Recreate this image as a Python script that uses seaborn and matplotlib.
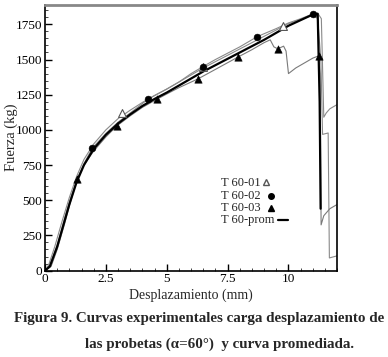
import matplotlib
matplotlib.use("Agg")
import matplotlib.pyplot as plt
from matplotlib.ticker import MultipleLocator
import pandas as pd
import seaborn as sns

# curvas (desplazamiento mm, fuerza kg)
x01 = [0, 0.15, 0.4, 0.7, 1.0, 1.3, 1.6, 2.0, 2.5, 3.0, 3.5, 4.0, 4.5, 5.0, 5.5, 6.0, 6.5, 7.0, 7.5,
       8.0, 8.5, 9.0, 9.5, 10.0, 10.5, 11.0, 11.2, 11.35, 11.45, 11.55, 11.7, 12.0]
y01 = [0, 40, 170, 350, 520, 670, 790, 900, 1000, 1080, 1140, 1195, 1245, 1290, 1340, 1390, 1440, 1485, 1530,
       1575, 1620, 1665, 1710, 1755, 1785, 1815, 1830, 1790, 1090, 1120, 1150, 1180]

x02 = [0, 0.2, 0.5, 0.8, 1.0, 1.3, 1.6, 1.94, 2.5, 3.0, 3.5, 4.23, 5.0, 5.5, 6.0, 6.49, 7.0, 7.5, 8.0,
       8.72, 9.5, 10.0, 10.5, 11.0, 11.2, 11.33, 11.4, 11.63, 11.68, 12.0]
y02 = [0, 40, 180, 370, 490, 640, 760, 870, 975, 1055, 1120, 1218, 1290, 1340, 1400, 1450, 1500, 1545, 1590,
       1663, 1720, 1760, 1790, 1824, 1790, 1500, 968, 978, 90, 105]

x03 = [0, 0.25, 0.5, 0.8, 1.0, 1.32, 1.6, 2.0, 2.5, 2.95, 3.5, 4.0, 4.6, 5.0, 5.5, 6.28, 7.0, 7.92, 8.5,
       9.0, 9.25, 9.4, 9.56, 9.8, 9.9, 10.0, 10.3, 10.6, 11.0, 11.24, 11.3, 11.34, 11.45, 11.7, 12.0]
y03 = [0, 30, 150, 330, 460, 650, 750, 850, 950, 1028, 1100, 1160, 1218, 1255, 1300, 1362, 1430, 1517, 1570,
       1620, 1640, 1590, 1576, 1595, 1560, 1400, 1440, 1470, 1510, 1526, 1400, 325, 390, 440, 470]

xprom = [0, 0.2, 0.5, 0.8, 1.0, 1.3, 1.6, 2.0, 2.5, 3.0, 3.5, 4.0, 4.5, 5.0, 5.5, 6.0, 6.5, 7.0, 7.5,
         8.0, 8.5, 9.0, 9.5, 10.0, 10.5, 11.0, 11.2, 11.28, 11.32]
yprom = [0, 30, 170, 350, 470, 630, 750, 865, 965, 1045, 1110, 1170, 1220, 1265, 1315, 1365, 1415, 1460, 1505,
         1550, 1595, 1640, 1690, 1740, 1780, 1820, 1825, 1200, 440]

# marcadores
mx01 = [3.18, 6.47, 9.77]
my01 = [1118, 1445, 1740]
mx02 = [1.94, 4.23, 6.49, 8.72, 11.0]
my02 = [870, 1218, 1450, 1663, 1824]
mx03 = [1.32, 2.95, 4.6, 6.28, 7.92, 9.56, 11.24]
my03 = [650, 1028, 1218, 1362, 1517, 1576, 1526]

labels = ["T 60-01", "T 60-02", "T 60-03", "T 60-prom"]

sns.set_style("ticks")
plt.rcParams['font.family'] = ['Liberation Serif', 'DejaVu Serif']

fig = plt.figure(figsize=(3.88, 3.57), dpi=100)
ax = fig.add_axes([0.116, 0.242, 0.753, 0.745])

for xs, ys, c, lw in [(x01, y01, "#8a8a8a", 0.8), (x02, y02, "#8a8a8a", 0.8),
                      (x03, y03, "#7a7a7a", 0.8), (xprom, yprom, "black", 1.6)]:
    d = pd.DataFrame({"x": xs, "y": ys})
    sns.lineplot(data=d, x="x", y="y", sort=False, estimator=None, color=c, linewidth=lw, ax=ax)

sns.scatterplot(x=mx01, y=my01, marker="^", s=32, facecolor="white", edgecolor="#555555", linewidth=0.8, ax=ax, zorder=5)
sns.scatterplot(x=mx02, y=my02, marker="o", s=24, color="black", edgecolor="black", ax=ax, zorder=5)
sns.scatterplot(x=mx03, y=my03, marker="^", s=28, color="black", edgecolor="black", ax=ax, zorder=5)

ax.set_xlim(0, 12)
ax.set_ylim(0, 1890)
ax.xaxis.set_minor_locator(MultipleLocator(0.5))
ax.yaxis.set_major_locator(MultipleLocator(250))
ax.yaxis.set_minor_locator(MultipleLocator(50))
ax.set_xticks([0, 2.5, 5, 7.5, 10])
ax.set_xticklabels(["0", "2.5", "5", "7.5", "10"])
ax.tick_params(which="major", direction="in", length=5, width=1, labelsize=9.5, pad=2, colors="black")
ax.tick_params(which="minor", direction="in", length=2.5, width=0.6)
for s in ax.spines.values():
    s.set_linewidth(1.2)
    s.set_color("black")
ax.spines["top"].set_color("#888888")
ax.spines["top"].set_linewidth(2)

ax.set_xlabel("Desplazamiento (mm)", fontsize=10, labelpad=2)
ax.set_ylabel("Fuerza (kg)", fontsize=10.5)
ax.yaxis.set_label_coords(-0.092, 0.5)

# leyenda: texto alineado a la izquierda, simbolo a continuacion
ty = [0.329, 0.281, 0.236, 0.191]
for lab, yy in zip(labels, ty):
    ax.text(0.603, yy, lab, transform=ax.transAxes, ha="left", va="center", fontsize=9)
ax.plot([0.757], [ty[0] + 0.006], transform=ax.transAxes, ls="none", marker="^", mfc="white", mec="#555555", ms=5)
ax.plot([0.772], [ty[1]], transform=ax.transAxes, ls="none", marker="o", color="black", ms=4)
ax.plot([0.772], [ty[2]], transform=ax.transAxes, ls="none", marker="^", color="black", ms=5)
ax.plot([0.797, 0.83], [ty[3], ty[3]], transform=ax.transAxes, color="black", lw=1.6)

fig.text(0.512, 0.109, "Figura 9. Curvas experimentales carga desplazamiento de",
         ha="center", va="center", fontsize=10.8, fontweight="bold")
fig.text(0.567, 0.036, "las probetas (\u03b1=60\u00b0)  y curva promediada.",
         ha="center", va="center", fontsize=10.8, fontweight="bold")

fig.savefig("out.png", dpi=100)
